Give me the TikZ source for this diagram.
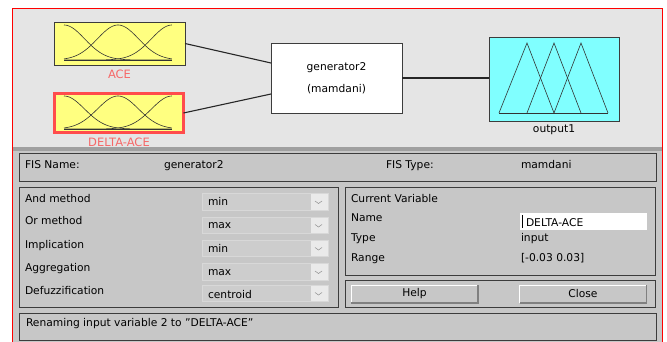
\documentclass[tikz,border=0pt]{standalone}
\usepackage{fontspec}
\setmainfont{DejaVu Sans}
\usetikzlibrary{positioning, calc}
\definecolor{topgray}{RGB}{229,229,229}
\definecolor{panelgray}{RGB}{199,199,199}
\definecolor{sepgray}{RGB}{160,160,160}
\definecolor{dropfill}{RGB}{205,205,205}
\definecolor{dropline}{RGB}{216,216,216}
\definecolor{arrowfill}{RGB}{234,234,234}
\definecolor{boxyellow}{RGB}{255,255,128}
\definecolor{boxcyan}{RGB}{128,255,255}
\definecolor{lblred}{RGB}{246,104,104}
\definecolor{frameline}{RGB}{60,60,60}

\begin{document}
\begin{tikzpicture}[x=1pt, y=-1pt,
	every node/.style={font=\fontsize{10.7}{12.8}\selectfont, inner sep=0pt, outer sep=0pt},
	txt/.style={anchor=base west},
	varbox/.style={draw=frameline, line width=0.8pt, minimum width=131pt, minimum height=43pt},
	lbl/.style={text=lblred, font=\fontsize{11.5}{13}\selectfont},
	wire/.style={line width=1.1pt, black!85},
	mf/.style={black!80, line width=0.6pt},
	panel/.style={draw=frameline, line width=1pt},
	dropbox/.style={fill=dropfill, draw=dropline, line width=0.6pt},
	chev/.style={draw=black!45, line width=0.5pt},
	button/.style={fill=panelgray, minimum width=127pt, minimum height=18pt}]
	\useasboundingbox (0,0) rectangle (667,342);
	\fill[white] (0,0) rectangle (667,342);
	% window
	\fill[topgray] (13,9) rectangle (662,148);
	\fill[sepgray] (13,147.5) rectangle (662,151);
	\fill[panelgray] (13,151) rectangle (662,342);
	\draw[red, line width=1.2pt] (12.6,343) -- (12.6,8.6) -- (662.6,8.6) -- (662.6,343);

	% fis diagram
	\node[varbox, fill=boxyellow] (ace) at (119.5,43.5) {};
	\node[varbox, fill=boxyellow, draw=red!70, line width=2.6pt, minimum width=129pt, minimum height=39pt] (dace) at (119,113) {};
	\node[varbox, fill=white, minimum height=70pt, align=center] (gen) at (336.5,78) {generator2\\[9.5pt](mamdani)};
	\node[varbox, fill=boxcyan, minimum width=130pt, minimum height=84pt] (out) at (554,79) {};
	\node[lbl, below=5pt of ace] (acelbl) {ACE};
	\node[lbl, below=5pt of dace] (dacelbl) {DELTA-ACE};
	\node[below=4pt of out] (outlbl) {output1};
	\draw[wire] (ace.east) -- ([yshift=15pt]gen.west);
	\draw[wire] (dace.east) -- ([yshift=-16pt]gen.west);
	\draw[wire] (gen.east) -- (gen.east -| out.west);

	% membership functions
	\draw[mf] plot[domain=0:1, samples=60, smooth] ({64+108*\x}, {60-35*exp(0-(\x)^2/0.0722)});
	\draw[mf] plot[domain=0:1, samples=60, smooth] ({64+108*\x}, {60-35*exp(0-(\x-0.5)^2/0.0722)});
	\draw[mf] plot[domain=0:1, samples=60, smooth] ({64+108*\x}, {60-35*exp(0-(\x-1)^2/0.0722)});
	\draw[mf] (64,60) -- (172,60);
	\draw[mf] plot[domain=0:1, samples=60, smooth] ({64+108*\x}, {129-33*exp(0-(\x)^2/0.0722)});
	\draw[mf] plot[domain=0:1, samples=60, smooth] ({64+108*\x}, {129-33*exp(0-(\x-0.5)^2/0.0722)});
	\draw[mf] plot[domain=0:1, samples=60, smooth] ({64+108*\x}, {129-33*exp(0-(\x-1)^2/0.0722)});
	\draw[mf] (64,129) -- (172,129);
	\draw[mf] (499,113) -- (527,43) -- (554,113); \draw[mf] (527,113) -- (554,43) -- (581,113);
	\draw[mf] (554,113) -- (581,43) -- (608,113); \draw[mf] (499,113) -- (608,113);

	% fis name / type row
	\draw[panel] (19,154) rectangle (656,182);
	\node[txt] (fisname) at (25,169) {FIS Name:};
	\node[txt] (fisnameval) at (164,169) {generator2};
	\node[txt] (fistype) at (386,169) {FIS Type:};
	\node[txt] (fistypeval) at (521,169) {mamdani};

	% methods
	\draw[panel] (19,188) rectangle (338,307);
	\node[txt] (andm) at (25,202) {And method};
	\node[txt] (orm) at (25,225) {Or method};
	\node[txt] (impm) at (25,248) {Implication};
	\node[txt] (aggm) at (25,271) {Aggregation};
	\node[txt] (defm) at (25,294) {Defuzzification};
	\draw[dropbox] (202,193.5) rectangle (328,210); \fill[arrowfill] (311,194) rectangle (327.5,209.5);
	\draw[chev] (315,201) -- (318.5,203.5) -- (322,201);
	\draw[dropbox] (202,217) rectangle (328,233.5); \fill[arrowfill] (311,217.5) rectangle (327.5,233);
	\draw[chev] (315,224.5) -- (318.5,227) -- (322,224.5);
	\draw[dropbox] (202,240) rectangle (328,256.5); \fill[arrowfill] (311,240.5) rectangle (327.5,256);
	\draw[chev] (315,247.5) -- (318.5,250) -- (322,247.5);
	\draw[dropbox] (202,263.5) rectangle (328,280); \fill[arrowfill] (311,264) rectangle (327.5,279.5);
	\draw[chev] (315,271) -- (318.5,273.5) -- (322,271);
	\draw[dropbox] (202,285) rectangle (328,301.5); \fill[arrowfill] (311,285.5) rectangle (327.5,301);
	\draw[chev] (315,292.5) -- (318.5,295) -- (322,292.5);
	\node[txt] (andval) at (208,205.5) {min};
	\node[txt] (orval) at (208,229) {max};
	\node[txt] (impval) at (208,252.5) {min};
	\node[txt] (aggval) at (208,275.5) {max};
	\node[txt] (defval) at (208,298) {centroid};

	% current variable
	\draw[panel] (345,188) rectangle (655,275);
	\node[txt] (curvar) at (351,202) {Current Variable};
	\node[txt] (vname) at (351,222) {Name};
	\node[txt] (vtype) at (351,241) {Type};
	\node[txt] (vrange) at (351,261) {Range};
	\node[fill=white, minimum width=127pt, minimum height=17pt] (namefld) at (583.5,221.5) {};
	\draw[black, line width=0.6pt] ([shift={(2.5pt,-2pt)}]namefld.north west) -- ([shift={(2.5pt,2pt)}]namefld.south west);
	\node[txt] (nameval) at (526,226.5) {DELTA-ACE};
	\node[txt] (typeval) at (521,241) {input};
	\node[txt] (rangeval) at (521,261) {[-0.03 0.03]};

	% buttons
	\draw[panel] (345,280) rectangle (655,307);
	\node[button] (help) at (414.5,294) {Help};
	\node[button] (close) at (583,294) {Close};
	\draw[white, line width=1pt] (help.south west) -- (help.north west) -- (help.north east);
	\draw[black!50, line width=1.4pt] (help.north east) -- (help.south east) -- (help.south west);
	\draw[white, line width=1pt] (close.south west) -- (close.north west) -- (close.north east);
	\draw[black!50, line width=1.4pt] (close.north east) -- (close.south east) -- (close.south west);

	% status line
	\draw[panel] (19,313) rectangle (656,340);
	\node[txt] (status) at (26,326) {Renaming input variable 2 to \char34 DELTA-ACE\char34};
\end{tikzpicture}
\end{document}
